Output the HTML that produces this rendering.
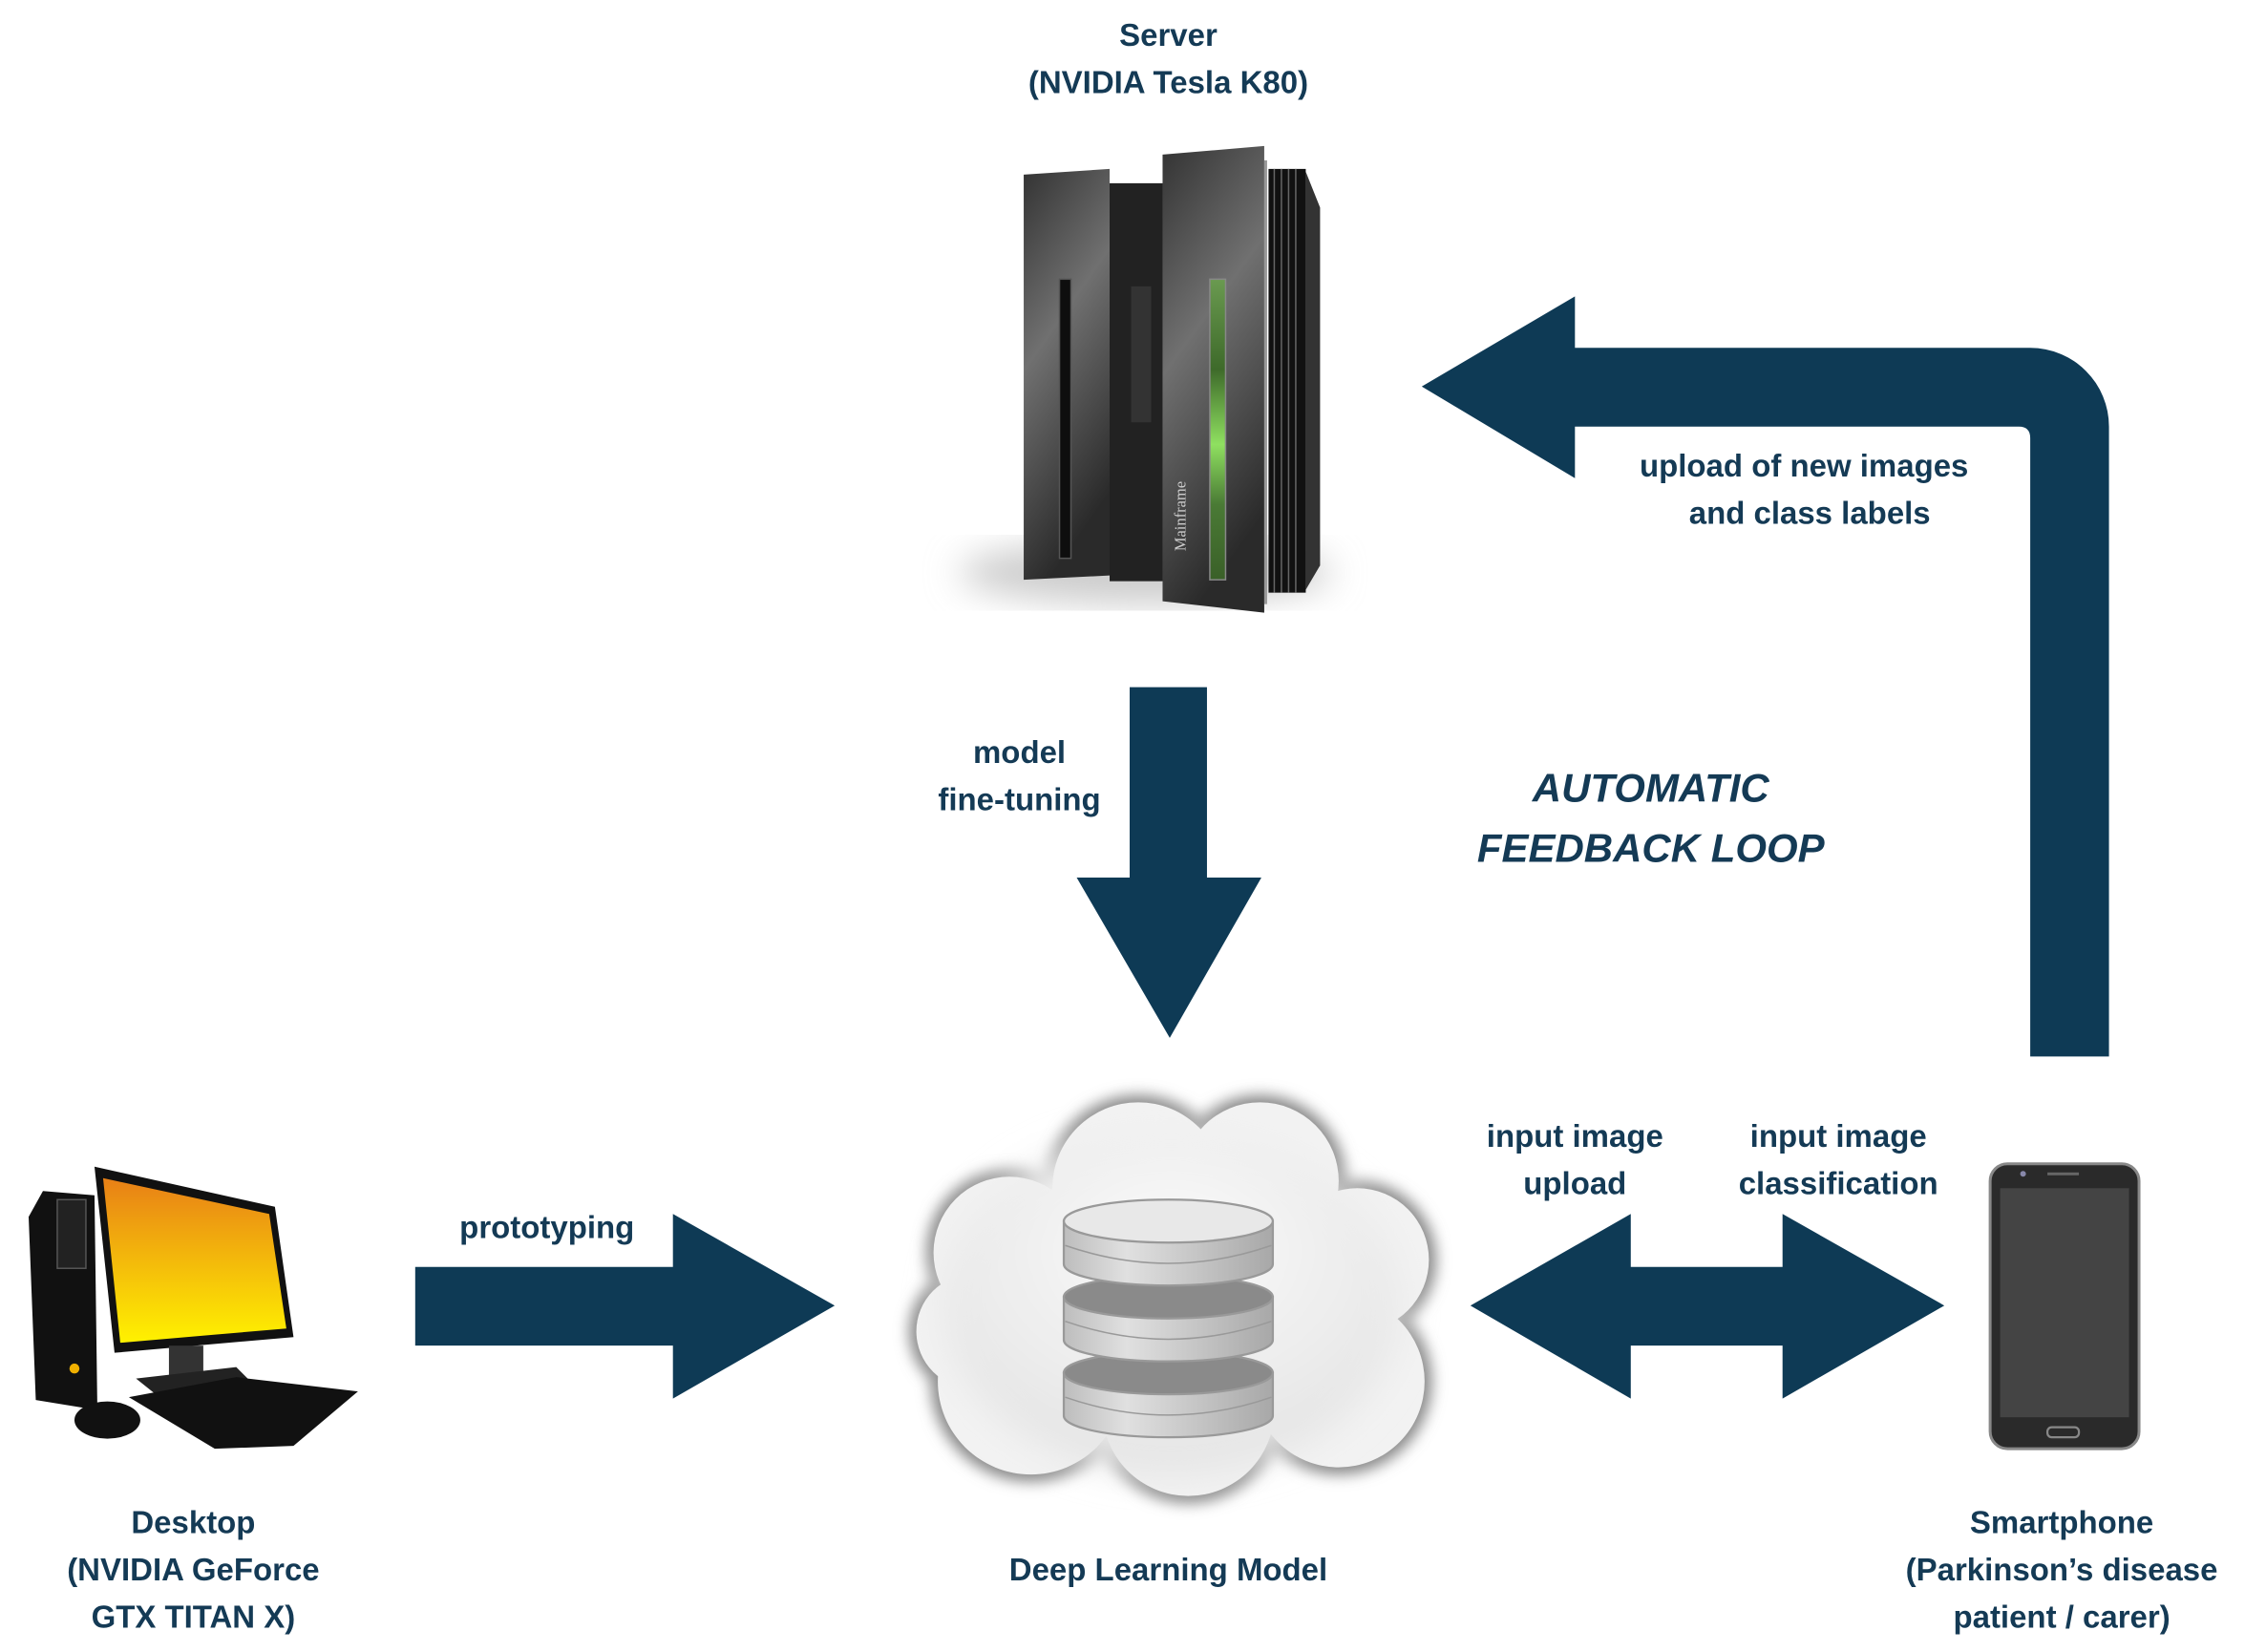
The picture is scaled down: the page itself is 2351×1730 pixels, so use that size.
<!DOCTYPE html>
<html><head><meta charset="utf-8"><style>
html,body{margin:0;padding:0;background:#fff}
svg{display:block}
text{font-family:"Liberation Sans",sans-serif;font-weight:bold;fill:#143a55;font-size:22px}
</style></head><body>
<svg width="2351" height="1730" viewBox="0 0 1568 1154" preserveAspectRatio="none" xmlns="http://www.w3.org/2000/svg">
<defs>
<linearGradient id="panel" x1="0" y1="0" x2="0.3" y2="1">
<stop offset="0" stop-color="#333"/><stop offset="0.45" stop-color="#707070"/><stop offset="1" stop-color="#2a2a2a"/></linearGradient>
<linearGradient id="green" x1="0" y1="0" x2="0" y2="1">
<stop offset="0" stop-color="#6a9a50"/><stop offset="0.3" stop-color="#3e6a2a"/><stop offset="0.55" stop-color="#8fe060"/><stop offset="0.75" stop-color="#4a7a35"/><stop offset="1" stop-color="#3a6028"/></linearGradient>
<linearGradient id="screen" x1="0" y1="0" x2="0" y2="1">
<stop offset="0" stop-color="#e88016"/><stop offset="1" stop-color="#fff200"/></linearGradient>
<radialGradient id="cloudg" cx="0.5" cy="0.35" r="0.7">
<stop offset="0" stop-color="#fbfbfb"/><stop offset="1" stop-color="#e2e2e2"/></radialGradient>
<linearGradient id="disk" x1="0" y1="0" x2="1" y2="0">
<stop offset="0" stop-color="#bdbdbd"/><stop offset="0.3" stop-color="#e0e0e0"/><stop offset="1" stop-color="#a8a8a8"/></linearGradient>
<filter id="blur"><feGaussianBlur stdDeviation="5"/></filter>
<filter id="blur2"><feGaussianBlur stdDeviation="12"/></filter>
</defs>

<!-- Server -->
<ellipse cx="800" cy="400" rx="130" ry="22" fill="#ccc" filter="url(#blur2)"/>
<polygon points="715,122 775,118 775,402 715,405" fill="url(#panel)"/>
<rect x="775" y="128" width="37" height="278" fill="#222"/>
<rect x="790" y="200" width="14" height="95" fill="#333"/>
<polygon points="812,108 883,102 883,428 812,420" fill="url(#panel)"/>
<rect x="883" y="112" width="2" height="310" fill="#999"/>
<g fill="#111"><rect x="886" y="118" width="26" height="296"/></g>
<g stroke="#666" stroke-width="1"><line x1="890" y1="118" x2="890" y2="414"/><line x1="895" y1="118" x2="895" y2="414"/><line x1="900" y1="118" x2="900" y2="414"/><line x1="905" y1="118" x2="905" y2="414"/></g>
<polygon points="912,120 922,145 922,395 912,412" fill="#333"/>
<rect x="740" y="195" width="8" height="195" fill="#0e0e0e" stroke="#555" stroke-width="1"/>
<rect x="845" y="195" width="11" height="210" fill="url(#green)" stroke="#888" stroke-width="1"/>
<text x="828" y="385" transform="rotate(-90 828 385)" style="font-family:'Liberation Serif',serif;font-weight:normal;font-size:11px;fill:#ccc">Mainframe</text>

<!-- Arrows -->
<g fill="#0e3a55">
<polygon points="789,480 843,480 843,613 881,613 817,725 752,613 789,613"/>
<path d="M1100,207 L1100,243 L1418,243 A55,55 0 0 1 1473,298 L1473,738 L1418,738 L1418,306 Q1418,298 1410,298 L1100,298 L1100,334 L993,270 Z"/>
<polygon points="290,885 470,885 470,848 583,912 470,977 470,940 290,940"/>
<polygon points="1027,912 1139,848 1139,885 1245,885 1245,848 1358,912 1245,977 1245,940 1139,940 1139,977"/>
</g>

<!-- Cloud -->
<g fill="#888" filter="url(#blur)">
<circle cx="705" cy="875" r="58"/><circle cx="720" cy="965" r="70"/><circle cx="795" cy="830" r="65"/><circle cx="880" cy="825" r="60"/><circle cx="948" cy="880" r="55"/><circle cx="935" cy="965" r="65"/><circle cx="830" cy="985" r="65"/><circle cx="680" cy="930" r="45"/>
</g>
<g fill="#f2f2f2">
<circle cx="705" cy="875" r="53"/><circle cx="720" cy="965" r="65"/><circle cx="795" cy="830" r="60"/><circle cx="880" cy="825" r="55"/><circle cx="948" cy="880" r="50"/><circle cx="935" cy="965" r="60"/><circle cx="830" cy="985" r="60"/><circle cx="680" cy="930" r="40"/>
</g>
<ellipse cx="818" cy="910" rx="160" ry="120" fill="url(#cloudg)" filter="url(#blur2)"/>
<!-- Database -->
<g stroke="#999" stroke-width="1.5">
<path d="M743,959 L743,989 A73,15 0 0 0 889,989 L889,959 Z" fill="url(#disk)"/>
<ellipse cx="816" cy="959" rx="73" ry="15" fill="#8a8a8a"/>
<path d="M743,906 L743,936 A73,15 0 0 0 889,936 L889,906 Z" fill="url(#disk)"/>
<ellipse cx="816" cy="906" rx="73" ry="15" fill="#8a8a8a"/>
<path d="M743,853 L743,883 A73,15 0 0 0 889,883 L889,853 Z" fill="url(#disk)"/>
<ellipse cx="816" cy="853" rx="73" ry="15" fill="#e8e8e8"/>
</g>
<g fill="none" stroke="#999" stroke-width="1">
<path d="M744,870 Q816,895 888,870"/><path d="M744,923 Q816,948 888,923"/><path d="M744,976 Q816,1001 888,976"/>
</g>

<!-- Desktop -->
<polygon points="20,850 30,832 66,835 68,985 25,978" fill="#111"/>
<rect x="40" y="838" width="20" height="48" fill="#222" stroke="#555" stroke-width="1"/>
<circle cx="52" cy="956" r="3.5" fill="#f0b000"/>
<polygon points="66,815 192,843 205,934 80,945" fill="#111"/>
<polygon points="72,823 188,848 200,928 84,938" fill="url(#screen)"/>
<rect x="118" y="940" width="24" height="22" fill="#333"/>
<polygon points="95,963 165,955 180,970 110,975" fill="#222"/>
<polygon points="90,976 165,962 250,972 205,1010 150,1012" fill="#111"/>
<ellipse cx="75" cy="992" rx="23" ry="13" fill="#111"/>

<!-- Phone -->
<rect x="1390" y="813" width="104" height="199" rx="12" fill="#2a2a2a" stroke="#888" stroke-width="2"/>
<rect x="1397" y="830" width="90" height="160" fill="#444"/>
<rect x="1430" y="997" width="22" height="7" rx="3" fill="none" stroke="#888" stroke-width="1.5"/>
<rect x="1430" y="819" width="22" height="2" fill="#666"/>
<circle cx="1413" cy="820" r="2" fill="#88a"/>

<!-- Text -->
<g text-anchor="middle">
<text x="816" y="32">Server</text>
<text x="816" y="65">(NVIDIA Tesla K80)</text>
<text x="1260" y="333">upload of new images</text>
<text x="1264" y="366">and class labels</text>
<text x="712" y="533">model</text>
<text x="712" y="566">fine-tuning</text>
<text x="1153" y="560" style="font-size:28px;font-style:italic">AUTOMATIC</text>
<text x="1153" y="602" style="font-size:28px;font-style:italic">FEEDBACK LOOP</text>
<text x="382" y="865">prototyping</text>
<text x="1100" y="801">input image</text>
<text x="1100" y="834">upload</text>
<text x="1284" y="801">input image</text>
<text x="1284" y="834">classification</text>
<text x="135" y="1071">Desktop</text>
<text x="135" y="1104">(NVIDIA GeForce</text>
<text x="135" y="1137">GTX TITAN X)</text>
<text x="816" y="1104">Deep Learning Model</text>
<text x="1440" y="1071">Smartphone</text>
<text x="1440" y="1104">(Parkinson’s disease</text>
<text x="1440" y="1137">patient / carer)</text>
</g>
</svg>
</body></html>
